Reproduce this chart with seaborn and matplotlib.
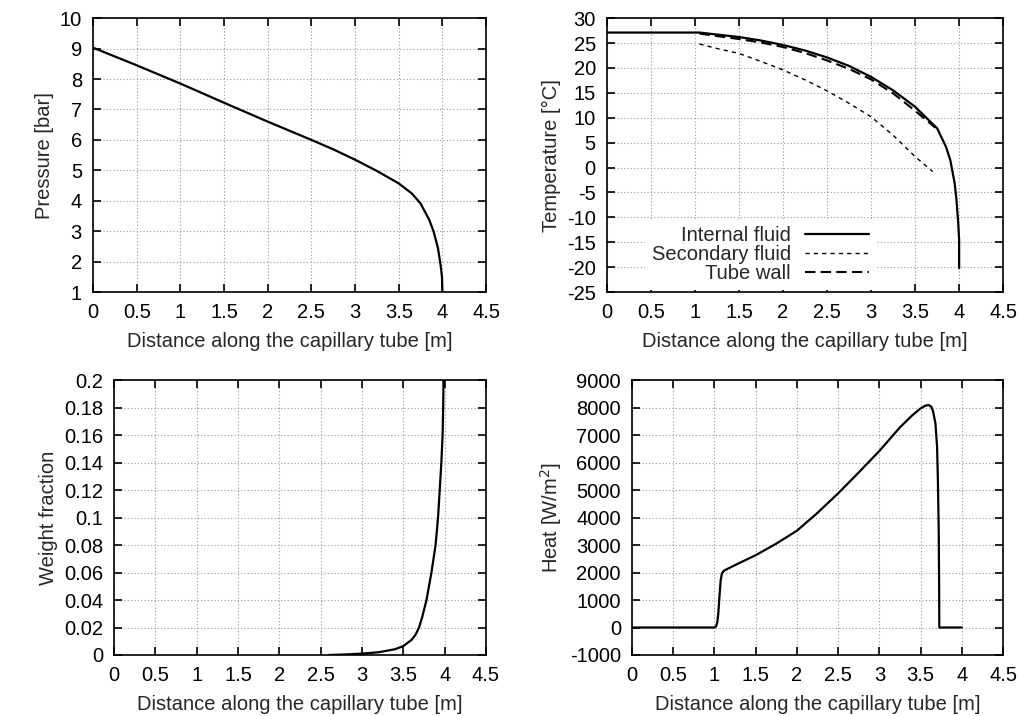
import numpy as np
import pandas as pd
import matplotlib
matplotlib.use("Agg")
import matplotlib.pyplot as plt
import seaborn as sns

# pressure along the tube [bar]
p_x = [0, 0.5, 1.0, 1.5, 2.0, 2.5, 2.75, 3.0, 3.25, 3.5, 3.65, 3.75, 3.85, 3.9, 3.95, 3.98, 3.995, 4.0]
p_y = [9.03, 8.45, 7.85, 7.22, 6.6, 6.0, 5.69, 5.35, 4.98, 4.57, 4.24, 3.91, 3.37, 2.98, 2.43, 1.87, 1.5, 1.0]

# temperatures [degC]
t_int_x = [0, 1.05, 1.25, 1.5, 1.75, 2.0, 2.25, 2.5, 2.75, 3.0, 3.25, 3.5, 3.65, 3.75, 3.85, 3.9,
           3.95, 3.97, 3.99, 4.0, 4.0]
t_int_y = [27.1, 27.1, 26.7, 26.2, 25.5, 24.6, 23.5, 22.1, 20.4, 18.2, 15.5, 12.2, 9.6, 7.9, 4.2, 1.5,
           -3.2, -6.5, -11.2, -14.5, -20.2]
t_sec_x = [1.05, 1.25, 1.5, 1.75, 2.0, 2.25, 2.5, 2.75, 3.0, 3.25, 3.5, 3.7]
t_sec_y = [24.8, 23.9, 22.9, 21.3, 19.6, 17.6, 15.4, 12.9, 10.2, 6.5, 2.2, -0.8]
t_wall_x = [1.05, 1.25, 1.5, 1.75, 2.0, 2.25, 2.5, 2.75, 3.0, 3.25, 3.5, 3.73]
t_wall_y = [26.9, 26.4, 25.8, 25.1, 24.2, 23.0, 21.5, 19.8, 17.7, 14.9, 11.4, 8.0]

# weight fraction [-]
w_x = [2.6, 2.8, 3.0, 3.2, 3.4, 3.5, 3.6, 3.65, 3.69, 3.73, 3.78, 3.84, 3.89, 3.92, 3.94, 3.96,
       3.975, 3.982, 3.985, 3.985]
w_y = [0.0, 0.0004, 0.001, 0.002, 0.0042, 0.0065, 0.011, 0.015, 0.02, 0.028, 0.04, 0.06, 0.08,
       0.10, 0.12, 0.14, 0.16, 0.18, 0.195, 0.21]

# heat flux [W/m2]
q_x = [0, 1.0, 1.02, 1.035, 1.047, 1.06, 1.075, 1.09, 1.11, 1.13, 1.25, 1.5, 1.75, 2.0, 2.25, 2.5,
       2.75, 3.0, 3.25, 3.4, 3.5, 3.56, 3.6, 3.63, 3.65, 3.68, 3.7, 3.71, 3.72, 3.725, 3.727, 4.0]
q_y = [0, 0, 40, 200, 520, 1100, 1700, 1960, 2050, 2090, 2270, 2630, 3050, 3520, 4170, 4880,
       5640, 6420, 7280, 7720, 7970, 8070, 8090, 8030, 7880, 7430, 6580, 5360, 3550, 1500, 0, 0]

sns.set_style("ticks")
plt.rcParams['font.family'] = ['Liberation Sans', 'DejaVu Sans']
plt.rcParams['axes.unicode_minus'] = False
plt.rcParams['font.size'] = 14.5

fig = plt.figure(figsize=(10.21, 7.16), dpi=100)
ax1 = fig.add_axes([0.0911, 0.592, 0.385, 0.3827])
ax2 = fig.add_axes([0.5945, 0.592, 0.388, 0.3827])
ax3 = fig.add_axes([0.1117, 0.0852, 0.3643, 0.384])
ax4 = fig.add_axes([0.619, 0.0852, 0.3634, 0.384])

xlab = "Distance along the capillary tube [m]"
kw = dict(color="black", sort=False, estimator=None)

sns.lineplot(x=p_x, y=p_y, ax=ax1, lw=1.6, **kw)
sns.lineplot(x=t_int_x, y=t_int_y, ax=ax2, lw=1.6, label="Internal fluid", **kw)
sns.lineplot(x=t_sec_x, y=t_sec_y, ax=ax2, lw=1.0, label="Secondary fluid",
             linestyle=(0, (3, 3)), **kw)
sns.lineplot(x=t_wall_x, y=t_wall_y, ax=ax2, lw=1.5, label="Tube wall",
             linestyle=(0, (5, 2.5)), **kw)
sns.lineplot(x=w_x, y=w_y, ax=ax3, lw=1.6, **kw)
sns.lineplot(x=q_x, y=q_y, ax=ax4, lw=1.6, **kw)

ax1.set_ylim(1, 10)
ax1.set_yticks(np.arange(1, 10.5, 1))
ax1.set_ylabel("Pressure [bar]")
ax2.set_ylim(-25, 30)
ax2.set_yticks(np.arange(-25, 31, 5))
ax2.set_ylabel("Temperature [°C]")
ax3.set_ylim(0, 0.2)
ax3.set_yticks(np.round(np.arange(0, 0.201, 0.02), 2))
ax3.set_yticklabels(["0", "0.02", "0.04", "0.06", "0.08", "0.1", "0.12", "0.14", "0.16", "0.18", "0.2"])
ax3.set_ylabel("Weight fraction")
ax4.set_ylim(-1000, 9000)
ax4.set_yticks(np.arange(-1000, 9001, 1000))
ax4.set_ylabel("Heat [W/m$^2$]")

for ax in [ax1, ax2, ax3, ax4]:
    ax.set_xlim(0, 4.5)
    ax.set_xticks(np.arange(0, 4.51, 0.5))
    ax.set_xticklabels(["0", "0.5", "1", "1.5", "2", "2.5", "3", "3.5", "4", "4.5"])
    ax.set_xlabel(xlab, labelpad=7)
    ax.grid(True, color="#999999", linestyle=(0, (1, 2)), lw=0.8)
    ax.tick_params(direction="in", length=6, width=1.2, top=True, right=True, pad=8, colors="black")
    for s in ax.spines.values():
        s.set_visible(True)
        s.set_linewidth(1.2)
        s.set_color("black")

leg = ax2.legend(loc="lower right", bbox_to_anchor=(0.685, 0.0), markerfirst=False, frameon=True,
                 handlelength=3.2, labelspacing=0.0, borderaxespad=0.1, fontsize=14.5,
                 handletextpad=0.7, borderpad=0.35)
leg.get_frame().set_facecolor("white")
leg.get_frame().set_edgecolor("none")
leg.get_frame().set_alpha(1.0)
for t in leg.get_texts():
    t.set_ha("right")
leg._legend_box.align = "right"

fig.savefig("out.png", dpi=100)
